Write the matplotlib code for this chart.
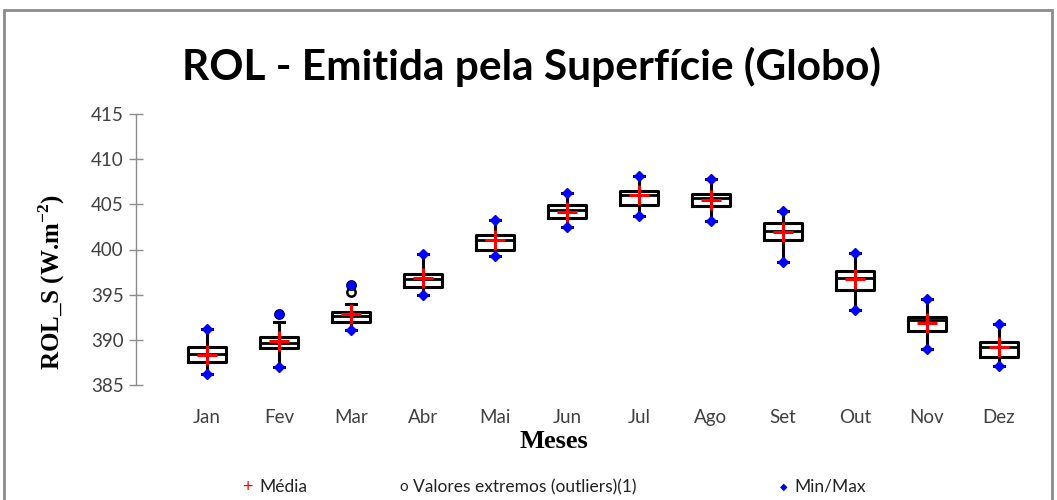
import matplotlib
matplotlib.use("Agg")
import matplotlib.pyplot as plt
from matplotlib.patches import Rectangle

plt.rcParams["mathtext.fontset"] = "custom"
plt.rcParams["mathtext.rm"] = "Liberation Serif"
plt.rcParams["mathtext.bf"] = "Liberation Serif:bold"

months = ["Jan", "Fev", "Mar", "Abr", "Mai", "Jun", "Jul", "Ago", "Set", "Out", "Nov", "Dez"]
q1 = [387.5, 389.05, 392.0, 395.9, 400.0, 403.5, 404.9, 404.8, 401.0, 395.5, 391.0, 388.1]
median = [388.4, 389.7, 392.6, 396.7, 401.0, 404.4, 406.0, 405.7, 402.0, 396.9, 392.2, 389.2]
q3 = [389.2, 390.3, 393.1, 397.3, 401.6, 404.9, 406.5, 406.1, 402.9, 397.6, 392.5, 389.8]
whisker_low = [386.2, 387.0, 391.1, 395.0, 399.3, 402.5, 403.7, 403.1, 398.6, 393.3, 389.0, 387.1]
whisker_high = [391.2, 392.0, 394.0, 399.5, 403.3, 406.3, 408.1, 407.8, 404.3, 399.6, 394.5, 391.7]
mean = [388.3, 389.9, 392.9, 396.8, 401.0, 404.2, 406.0, 405.5, 401.9, 396.7, 391.9, 389.2]
minimum = [386.2, 387.0, 391.1, 395.0, 399.3, 402.5, 403.7, 403.1, 398.6, 393.3, 389.0, 387.1]
maximum = [391.2, 392.9, 396.1, 399.5, 403.3, 406.3, 408.1, 407.8, 404.3, 399.6, 394.5, 391.7]
outliers = [[], [392.9], [395.3, 396.1], [], [], [], [], [], [], [], [], []]

W, H = 1057, 500
fig = plt.figure(figsize=(W / 100, H / 100), dpi=100)

# outer frame
fig.patches.append(Rectangle((4 / W, -0.1), (1052 - 4) / W, 1.1 - 10 / H,
                             transform=fig.transFigure, fill=False,
                             edgecolor="#8c8c8c", linewidth=2.0, zorder=0))

ax = fig.add_axes([136 / W, (500 - 385) / H, (1040 - 136) / W, (385 - 114) / H])

positions = list(range(1, 13))
stats = []
for i in range(12):
    stats.append(dict(med=median[i], q1=q1[i], q3=q3[i], whislo=whisker_low[i],
                      whishi=whisker_high[i], fliers=outliers[i], label=months[i]))

ax.bxp(stats, positions=positions, widths=0.54, showfliers=True, capwidths=0.13,
       boxprops=dict(color="black", linewidth=2.2),
       medianprops=dict(color="black", linewidth=2.0),
       whiskerprops=dict(color="black", linewidth=2.2),
       capprops=dict(color="black", linewidth=2.2),
       flierprops=dict(marker="o", markerfacecolor="white", markeredgecolor="black",
                       markersize=6, markeredgewidth=1.8))

ax.plot(positions, mean, linestyle="none", marker="+", color="red",
        markersize=15, markeredgewidth=2.2, zorder=5)
ax.plot(positions, minimum, linestyle="none", marker="D", color="#0000ff",
        markersize=5.5, zorder=6)
ax.plot(positions, maximum, linestyle="none", marker="D", color="#0000ff",
        markersize=5.5, zorder=6)

ax.set_xlim(1 - 71 / 72, 12 + 41 / 72)
ax.set_ylim(385, 415)
ax.set_yticks([385, 390, 395, 400, 405, 410, 415])
ax.set_xticks(positions)
ax.set_xticklabels(months)

for s in ["top", "right", "bottom"]:
    ax.spines[s].set_visible(False)
ax.spines["left"].set_color("#8c8c8c")
ax.spines["left"].set_linewidth(1.0)

ax.tick_params(axis="y", direction="inout", length=10, width=1.0, color="#8c8c8c",
               labelsize=13.5, labelcolor="#404040", pad=4)
ax.tick_params(axis="x", length=0, labelsize=13.5, labelcolor="#404040", pad=17)
for lab in ax.get_xticklabels() + ax.get_yticklabels():
    lab.set_family("Lato")

ax.set_facecolor("none")

fig.text(531 / W, 1 - 67 / H, "ROL - Emitida pela Superfície (Globo)", ha="center",
         va="center", fontsize=30.5, fontweight="bold", family="Lato")
fig.text(52 / W, 1 - 282 / H, r"ROL_S (W.m$^{\mathbf{-2}}$)", rotation=90, ha="center",
         va="center", fontsize=18, fontweight="bold", family="Liberation Serif")
fig.text(554 / W, 1 - 441 / H, "Meses", ha="center", va="center", fontsize=19,
         fontweight="bold", family="Liberation Serif")

# legend row
ly = 1 - 487 / H
fig.text(242 / W, ly, "+", color="red", ha="left", va="center", fontsize=13, family="Lato")
fig.text(259 / W, ly, "Média", color="#222222", ha="left", va="center", fontsize=12.5, family="Lato")
fig.text(399 / W, ly, "o", color="#222222", ha="left", va="center", fontsize=11, family="Lato")
fig.text(413 / W, ly, "Valores extremos (outliers)(1)", color="#222222", ha="left",
         va="center", fontsize=12.5, family="Lato")
fig.text(780 / W, ly, "\u25C6", color="#0000ff", ha="left", va="center", fontsize=7,
         family="DejaVu Sans")
fig.text(794 / W, ly, "Min/Max", color="#222222", ha="left", va="center", fontsize=12.5,
         family="Lato")

fig.savefig("out.png", dpi=100)
